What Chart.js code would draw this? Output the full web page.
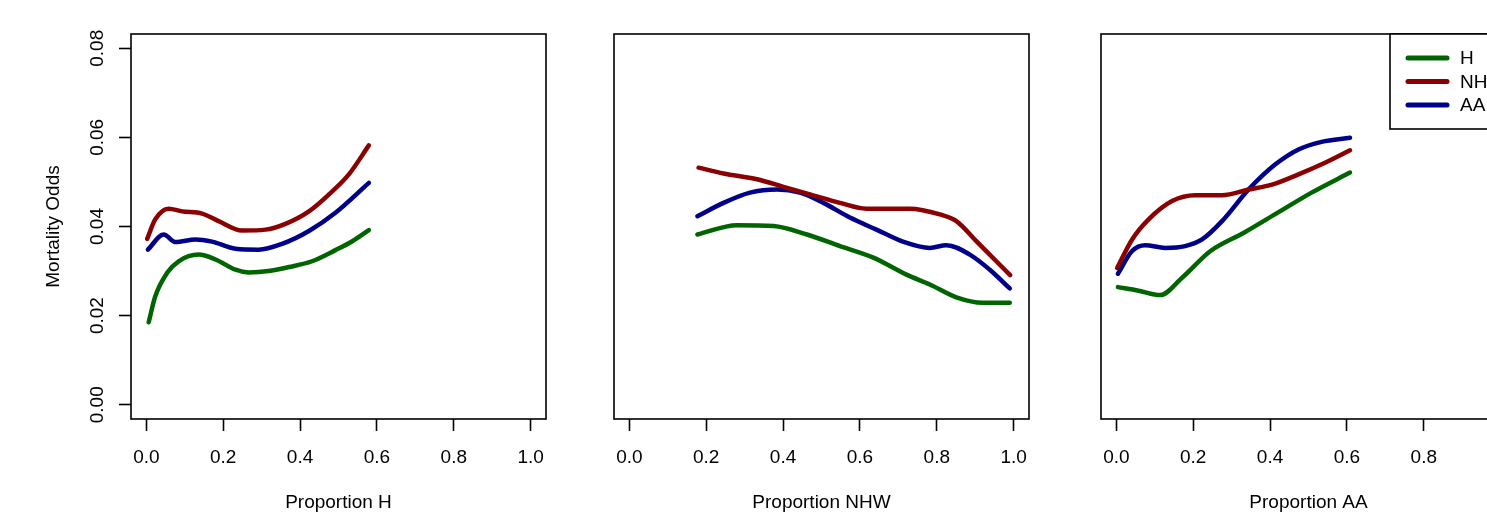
<!DOCTYPE html>
<html>
<head>
<meta charset="utf-8">
<title>Mortality Odds by Neighbourhood Proportion</title>
<script src="https://cdn.jsdelivr.net/npm/chart.js@4.4.0/dist/chart.umd.min.js"></script>
<style>
  html, body { margin: 0; padding: 0; background: #fff; overflow: hidden; }
  #wrap { position: relative; width: 1487px; height: 517px; overflow: hidden; }
  #wrap canvas { position: absolute; top: 0; }
</style>
</head>
<body>
<div id="wrap">
  <canvas id="panelH" width="560" height="517" style="left:0px"></canvas>
  <canvas id="panelNHW" width="560" height="517" style="left:483px"></canvas>
  <canvas id="panelAA" width="560" height="517" style="left:970px"></canvas>
</div>
<script>
// Axis ticks shared by the three panels
const xTicks = [0, 0.2, 0.4, 0.6, 0.8, 1.0];
const yTicks = [0, 0.02, 0.04, 0.06, 0.08];

const groups = ['H', 'NHW', 'AA'];
const groupColors = ['#006400', '#8b0000', '#00008b'];

// Mortality odds against proportion H
const propH_H_x = [0.006, 0.023, 0.054, 0.084, 0.136, 0.18, 0.232, 0.266, 0.318, 0.371, 0.431, 0.492, 0.536, 0.579];
const propH_H_y = [0.0185, 0.0243, 0.0296, 0.0322, 0.0337, 0.0326, 0.0303, 0.0297, 0.0300, 0.0309, 0.0322, 0.0347, 0.0367, 0.0392];
const propH_NHW_x = [0.002, 0.023, 0.058, 0.093, 0.145, 0.188, 0.249, 0.31, 0.362, 0.423, 0.475, 0.527, 0.579];
const propH_NHW_y = [0.0372, 0.0416, 0.0440, 0.0434, 0.0429, 0.0412, 0.0391, 0.0393, 0.0406, 0.0434, 0.0472, 0.0517, 0.0582];
const propH_AA_x = [0.004, 0.045, 0.076, 0.128, 0.171, 0.232, 0.292, 0.353, 0.423, 0.492, 0.579];
const propH_AA_y = [0.0348, 0.0382, 0.0365, 0.0371, 0.0366, 0.0350, 0.0348, 0.0361, 0.0390, 0.0431, 0.0498];

// Mortality odds against proportion NHW
const propNHW_H_x = [0.177, 0.28, 0.375, 0.462, 0.548, 0.635, 0.721, 0.782, 0.851, 0.92, 0.99];
const propNHW_H_y = [0.0382, 0.0403, 0.0401, 0.0382, 0.0356, 0.0330, 0.0292, 0.0270, 0.0241, 0.0229, 0.0229];
const propNHW_NHW_x = [0.18, 0.245, 0.332, 0.401, 0.47, 0.548, 0.617, 0.73, 0.808, 0.851, 0.903, 0.955, 0.991];
const propNHW_NHW_y = [0.0532, 0.0519, 0.0506, 0.0489, 0.0472, 0.0453, 0.0440, 0.0440, 0.0427, 0.0412, 0.0367, 0.0322, 0.0291];
const propNHW_AA_x = [0.177, 0.245, 0.314, 0.384, 0.444, 0.505, 0.574, 0.643, 0.712, 0.782, 0.825, 0.886, 0.938, 0.99];
const propNHW_AA_y = [0.0423, 0.0453, 0.0476, 0.0483, 0.0476, 0.0453, 0.0420, 0.0393, 0.0366, 0.0352, 0.0358, 0.0337, 0.0303, 0.0261];

// Mortality odds against proportion AA
const propAA_H_x = [0.004, 0.058, 0.114, 0.171, 0.245, 0.332, 0.42, 0.508, 0.608];
const propAA_H_y = [0.0264, 0.0256, 0.0246, 0.0285, 0.0345, 0.0386, 0.0431, 0.0476, 0.0521];
const propAA_NHW_x = [0.002, 0.041, 0.084, 0.145, 0.205, 0.275, 0.344, 0.405, 0.474, 0.543, 0.608];
const propAA_NHW_y = [0.0307, 0.0371, 0.0416, 0.0457, 0.0470, 0.0470, 0.0483, 0.0494, 0.0517, 0.0543, 0.0571];
const propAA_AA_x = [0.004, 0.041, 0.075, 0.127, 0.179, 0.223, 0.275, 0.344, 0.413, 0.474, 0.534, 0.608];
const propAA_AA_y = [0.0294, 0.0345, 0.0358, 0.0352, 0.0356, 0.0371, 0.0412, 0.0483, 0.0539, 0.0573, 0.0590, 0.0599];

const FONT = '"Liberation Sans", Arial, Helvetica, sans-serif';
const FONT_SIZE = 19;

Chart.defaults.font.family = FONT;
Chart.defaults.font.size = FONT_SIZE;
Chart.defaults.color = '#000';

function toPoints(xs, ys) {
    return xs.map((x, i) => ({ x: x, y: ys[i] }));
}

// box round the plotting region
const framePlugin = {
    id: 'frame',
    afterDraw(chart) {
        const { ctx, chartArea: a } = chart;
        ctx.save();
        ctx.strokeStyle = '#000';
        ctx.lineWidth = 1.6;
        ctx.strokeRect(a.left, a.top, a.right - a.left, a.bottom - a.top);
        ctx.restore();
    }
};

// y labels written along the axis, read bottom to top
const yLabelPlugin = {
    id: 'yLabels',
    afterDraw(chart, args, opts) {
        if (!opts.display) return;
        const { ctx } = chart;
        const scale = chart.scales.y;
        ctx.save();
        ctx.fillStyle = '#000';
        ctx.font = FONT_SIZE + 'px ' + FONT;
        ctx.textAlign = 'center';
        ctx.textBaseline = 'middle';
        scale.ticks.forEach(t => {
            const y = scale.getPixelForValue(t.value);
            ctx.save();
            ctx.translate(opts.x, y);
            ctx.rotate(-Math.PI / 2);
            ctx.fillText(t.value.toFixed(2), 0, 0);
            ctx.restore();
        });
        ctx.restore();
    }
};

// boxed legend in the top right corner of the plot
const boxLegendPlugin = {
    id: 'boxLegend',
    afterDraw(chart, args, opts) {
        if (!opts.display) return;
        const { ctx, chartArea: a } = chart;
        const left = a.right - 126;
        const top = a.top;
        ctx.save();
        ctx.fillStyle = '#fff';
        ctx.fillRect(left, top, 126, 95);
        ctx.strokeStyle = '#000';
        ctx.lineWidth = 1.6;
        ctx.strokeRect(left, top, 126, 95);
        ctx.font = FONT_SIZE + 'px ' + FONT;
        ctx.textBaseline = 'middle';
        ctx.textAlign = 'left';
        chart.data.datasets.forEach((ds, i) => {
            const y = top + 24 + i * 23.5;
            ctx.strokeStyle = ds.borderColor;
            ctx.lineWidth = 5;
            ctx.lineCap = 'round';
            ctx.beginPath();
            ctx.moveTo(left + 18, y);
            ctx.lineTo(left + 57, y);
            ctx.stroke();
            ctx.fillStyle = '#000';
            ctx.fillText(ds.label, left + 70, y + 1);
        });
        ctx.restore();
    }
};

function makePanel(canvasId, xTitle, series, showY, showLegend) {
    const datasets = series.map((s, i) => ({
        label: groups[i],
        data: toPoints(s[0], s[1]),
        borderColor: groupColors[i],
        backgroundColor: groupColors[i],
        borderWidth: 4.5,
        borderCapStyle: 'round',
        borderJoinStyle: 'round',
        pointRadius: 0,
        cubicInterpolationMode: 'monotone',
        fill: false
    }));

    return new Chart(document.getElementById(canvasId), {
        type: 'line',
        data: { datasets: datasets },
        plugins: [framePlugin, yLabelPlugin, boxLegendPlugin],
        options: {
            responsive: false,
            animation: false,
            devicePixelRatio: 1,
            layout: { padding: { top: 34, right: 14, left: 0, bottom: 0 } },
            plugins: {
                legend: { display: false },
                tooltip: { enabled: false },
                yLabels: { display: showY, x: 98 },
                boxLegend: { display: showLegend }
            },
            scales: {
                x: {
                    type: 'linear',
                    min: -0.04,
                    max: 1.04,
                    afterBuildTicks: scale => { scale.ticks = xTicks.map(v => ({ value: v })); },
                    afterFit: scale => { scale.height = 98; },
                    ticks: {
                        autoSkip: false,
                        maxRotation: 0,
                        padding: 15.5,
                        color: '#000',
                        callback: v => v.toFixed(1)
                    },
                    grid: {
                        drawOnChartArea: false,
                        drawTicks: true,
                        tickLength: 12,
                        tickWidth: 1.6,
                        tickColor: '#000'
                    },
                    border: { display: false },
                    title: {
                        display: true,
                        text: xTitle,
                        color: '#000',
                        padding: { top: 0, bottom: 2.6 }
                    }
                },
                y: {
                    type: 'linear',
                    min: -0.0032,
                    max: 0.0832,
                    afterBuildTicks: scale => { scale.ticks = yTicks.map(v => ({ value: v })); },
                    afterFit: scale => { scale.width = 131; },
                    ticks: { display: false },
                    grid: {
                        display: showY,
                        drawOnChartArea: false,
                        drawTicks: true,
                        tickLength: 12,
                        tickWidth: 1.6,
                        tickColor: '#000'
                    },
                    border: { display: false },
                    title: {
                        display: showY,
                        text: 'Mortality Odds',
                        color: '#000',
                        padding: { top: 42, bottom: 0 }
                    }
                }
            }
        }
    });
}

makePanel('panelH', 'Proportion H', [
    [propH_H_x, propH_H_y],
    [propH_NHW_x, propH_NHW_y],
    [propH_AA_x, propH_AA_y]
], true, false);

makePanel('panelNHW', 'Proportion NHW', [
    [propNHW_H_x, propNHW_H_y],
    [propNHW_NHW_x, propNHW_NHW_y],
    [propNHW_AA_x, propNHW_AA_y]
], false, false);

makePanel('panelAA', 'Proportion AA', [
    [propAA_H_x, propAA_H_y],
    [propAA_NHW_x, propAA_NHW_y],
    [propAA_AA_x, propAA_AA_y]
], false, true);
</script>
</body>
</html>
